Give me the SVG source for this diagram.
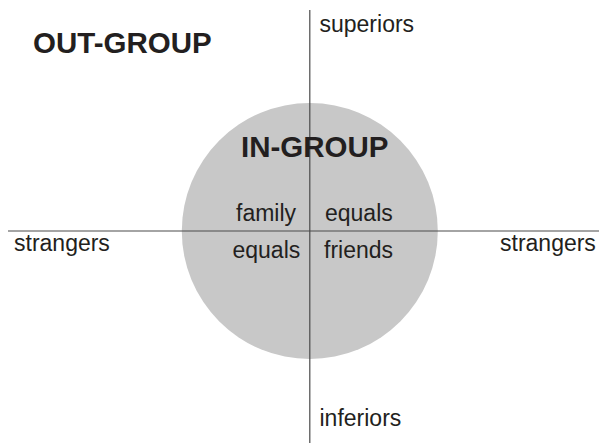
<svg xmlns="http://www.w3.org/2000/svg" width="599" height="445" viewBox="0 0 599 445">
<style>
.t{font-family:"Liberation Sans",Arial,sans-serif;font-size:23px;fill:#231f20}
.b{font-family:"Liberation Sans",Arial,sans-serif;font-size:29.5px;font-weight:bold;fill:#231f20}
.ax{stroke:#4a4a4a;stroke-width:1.2;fill:none}
</style>
<rect width="599" height="445" fill="#ffffff"/>
<g id="ingroup-circle"><circle cx="309.8" cy="231" r="128" fill="#c8c8c8"/></g>
<g id="axes">
<line class="ax" x1="309.8" y1="10" x2="309.8" y2="443"/>
<line class="ax" x1="8" y1="231" x2="599" y2="231"/>
</g>
<g id="out-group"><text class="b" x="33" y="53">OUT-GROUP</text></g>
<g id="in-group"><text class="b" x="241" y="156.5">IN-GROUP</text></g>
<g id="superiors"><text class="t" x="319.5" y="32">superiors</text></g>
<g id="inferiors"><text class="t" x="319.5" y="426">inferiors</text></g>
<g id="strangers-left"><text class="t" x="14" y="251">strangers</text></g>
<g id="strangers-right"><text class="t" x="500" y="251">strangers</text></g>
<g id="family"><text class="t" x="236" y="221">family</text></g>
<g id="equals-right"><text class="t" x="325" y="221">equals</text></g>
<g id="equals-left"><text class="t" x="232.5" y="258">equals</text></g>
<g id="friends"><text class="t" x="324" y="258">friends</text></g>
</svg>
